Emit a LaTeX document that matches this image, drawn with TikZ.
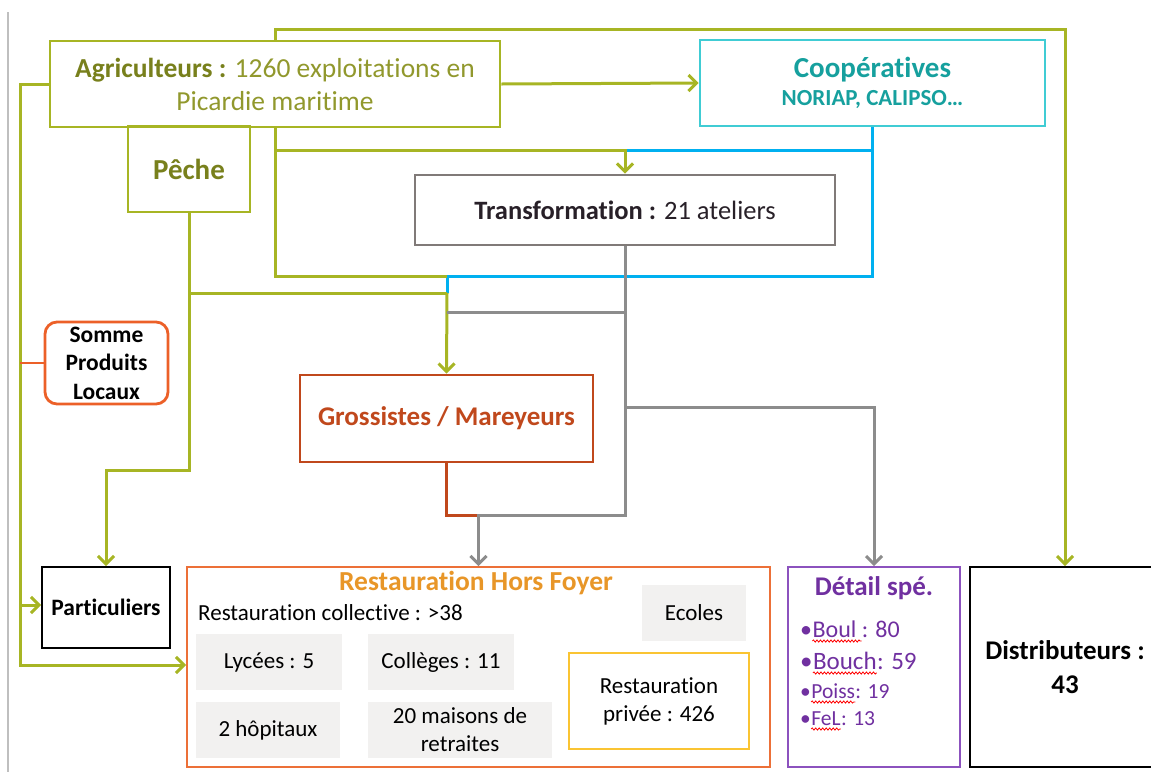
\documentclass[tikz,border=0pt]{standalone}
\usepackage{fontspec}
\setmainfont{Carlito}[Ligatures={NoCommon}]
\usetikzlibrary{arrows.meta,decorations.pathmorphing}
\definecolor{olvline}{RGB}{167,181,36}
\definecolor{olvtext}{RGB}{120,128,28}
\definecolor{olvtextl}{RGB}{145,152,45}
\definecolor{cyanbox}{RGB}{64,204,212}
\definecolor{tealtext}{RGB}{22,160,158}
\definecolor{blueline}{RGB}{0,176,240}
\definecolor{grayline}{RGB}{140,140,140}
\definecolor{graybox}{RGB}{128,122,120}
\definecolor{grossc}{RGB}{192,72,28}
\definecolor{sommec}{RGB}{236,96,40}
\definecolor{rhfc}{RGB}{236,112,56}
\definecolor{rhftc}{RGB}{232,150,40}
\definecolor{fillg}{RGB}{242,241,240}
\definecolor{privc}{RGB}{250,196,50}
\definecolor{purpb}{RGB}{140,82,190}
\definecolor{purpt}{RGB}{112,48,160}
\definecolor{darkt}{RGB}{40,32,40}
\begin{document}
\begin{tikzpicture}[x=1pt,y=-1pt,
  font=\fontsize{23}{28}\selectfont,
  box/.style={draw, line width=2.8pt, inner sep=0pt, align=center},
  gbox/.style={fill=fillg, inner sep=0pt, align=center, text=black},
  olv/.style={draw=olvline, line width=3pt},
  gry/.style={draw=grayline, line width=3pt},
  blu/.style={draw=blueline, line width=3pt},
  arr/.style={-{Straight Barb[length=8pt,width=16pt]}},
  txt/.style={inner sep=0pt},
  ptxt/.style={inner sep=0pt, anchor=base west, text=purpt},
  wavy/.style={draw=red, line width=0.8pt, decorate,
    decoration={snake, amplitude=1.1pt, segment length=3.5pt}}]
\useasboundingbox (0,0) rectangle (1151,772);
\clip (0,0) rectangle (1151,772);
\draw[draw=black!25, line width=1.2pt] (8,12) -- (8,772);

% boxes
\node[box, draw=olvline, minimum width=450, minimum height=86, text=olvtextl,
  font=\fontsize{27.5}{33}\selectfont] (agri) at (275,84)
  {{\color{olvtext}\bfseries Agriculteurs :} 1260 exploitations en\\Picardie maritime};
\node[box, draw=olvline, minimum width=122, minimum height=86, text=olvtext,
  font=\fontsize{29}{34}\selectfont\bfseries] (peche) at (189,169) {Pêche};
\node[box, draw=cyanbox, minimum width=345, minimum height=86, text=tealtext] (coop) at (872.5,83)
  {{\fontsize{29}{31}\selectfont\bfseries Coopératives}\\{\fontsize{23}{27}\selectfont\bfseries NORIAP, CALIPSO…}};
\node[box, draw=graybox, minimum width=420, minimum height=70, text=darkt,
  font=\fontsize{26.5}{30}\selectfont] (transf) at (625,210)
  {{\bfseries Transformation :} 21 ateliers};
\node[box, draw=sommec, rounded corners=12pt, minimum width=123, minimum height=82,
  font=\fontsize{23.5}{28.5}\selectfont\bfseries] (somme) at (106.5,363)
  {Somme\\Produits\\Locaux};
\node[box, draw=grossc, minimum width=293, minimum height=87, text=grossc,
  font=\fontsize{27}{30}\selectfont\bfseries] (gross) at (446.5,418.5) {Grossistes / Mareyeurs};
\node[box, draw=black, line width=1.8pt, minimum width=128, minimum height=81,
  font=\fontsize{23.5}{28}\selectfont\bfseries] (part) at (106,607.5) {Particuliers};
\node[box, draw=rhfc, line width=1.8pt, minimum width=583, minimum height=200] (rhf) at (478.5,667) {};
\node[box, draw=purpb, line width=1.8pt, minimum width=172, minimum height=200] (det) at (874,667) {};
\node[box, draw=black, line width=1.8pt, minimum width=190, minimum height=200,
  font=\fontsize{27}{34}\selectfont\bfseries] (dist) at (1065,667) {Distributeurs :\\43};

% inside Restauration Hors Foyer
\node[txt, text=rhftc, font=\fontsize{27.5}{30}\selectfont\bfseries] (rhft) at (476,583) {Restauration Hors Foyer};
\node[txt, anchor=west] (rcol) at (198,613) {Restauration collective : >38};
\node[gbox, minimum width=146, minimum height=56] (lyc) at (269,662) {Lycées : 5};
\node[gbox, minimum width=146, minimum height=56] (col) at (441,662) {Collèges : 11};
\node[gbox, minimum width=144, minimum height=56] (hop) at (268,730) {2 hôpitaux};
\node[gbox, minimum width=184, minimum height=56, font=\fontsize{23}{28}\selectfont] (mais) at (460,730) {20 maisons de\\retraites};
\node[gbox, minimum width=104, minimum height=56] (eco) at (694,613) {Ecoles};
\node[box, draw=privc, line width=1.8pt, minimum width=180, minimum height=96,
  font=\fontsize{23}{28}\selectfont] (priv) at (659,701) {Restauration\\privée : 426};

% inside Detail spe
\node[txt, text=purpt, font=\fontsize{27}{30}\selectfont\bfseries] (dett) at (874,588) {Détail spé.};
\node[ptxt, font=\fontsize{24}{28}\selectfont] (b1a) at (800,637) {\textbullet};
\node[ptxt, font=\fontsize{24}{28}\selectfont] (b1w) at (b1a.base east) {Boul\kern5pt};
\node[ptxt, font=\fontsize{24}{28}\selectfont] (b1n) at (b1w.base east) {: 80};
\node[ptxt, font=\fontsize{25}{29}\selectfont] (b2a) at (800,669) {\textbullet};
\node[ptxt, font=\fontsize{25}{29}\selectfont] (b2w) at (b2a.base east) {Bouch};
\node[ptxt, font=\fontsize{25}{29}\selectfont] (b2n) at (b2w.base east) {: 59};
\node[ptxt, font=\fontsize{21.5}{25}\selectfont] (b3a) at (800,698) {\textbullet};
\node[ptxt, font=\fontsize{21.5}{25}\selectfont] (b3w) at (b3a.base east) {Poiss};
\node[ptxt, font=\fontsize{21.5}{25}\selectfont] (b3n) at (b3w.base east) {: 19};
\node[ptxt, font=\fontsize{21.5}{25}\selectfont] (b4a) at (800,725) {\textbullet};
\node[ptxt, font=\fontsize{21.5}{25}\selectfont] (b4w) at (b4a.base east) {FeL};
\node[ptxt, font=\fontsize{21.5}{25}\selectfont] (b4n) at (b4w.base east) {: 13};
\foreach \w in {b1w,b2w,b3w,b4w}
  \draw[wavy] ([yshift=-4pt]\w.base west) -- ([yshift=-4pt]\w.base east);

% junction coordinates
\coordinate (top) at (275,29);
\coordinate (lv) at (20,605);
\coordinate (ls) at (20,363);
\coordinate (h150) at (275,150);
\coordinate (j276) at (447,276);
\coordinate (j293) at (447,293);
\coordinate (p293) at (189,293);
\coordinate (p470) at (189,470);
\coordinate (g312) at (447,312);
\coordinate (t312) at (625,312);
\coordinate (t407) at (625,407);
\coordinate (t515) at (625,515);
\coordinate (m515) at (478,515);

% connectors
\draw[blu] (coop.south) |- (j276) -- (j293);
\draw[blu] (transf.north |- h150) -- (coop.south |- h150);
\draw[olv, arr] (agri.north) |- (top) -| (dist.north);
\draw[olv, arr] (agri.east) -- (coop.west);
\draw[olv, arr] (agri.west) -| (20,665) -- (rhf.west |- 0,665);
\draw[olv, arr] (lv) -- (part.west |- lv);
\draw[draw=sommec, line width=2.6pt] (ls) -- (somme.west);
\draw[olv] (agri.south) |- (j276);
\draw[olv, arr] (h150) -| (transf.north);
\draw[olv] (peche.south) |- (j293);
\draw[olv, arr] (j293) -- (gross.north);
\draw[olv, arr] (p293) -- (p470) -| (part.north);
\draw[gry] (g312) -- (t312);
\draw[gry, arr] (t407) -| (det.north);
\draw[draw=grossc, line width=3pt] (gross.south) |- (m515);
\draw[gry, arr] (transf.south) -- (t515) -| (rhf.north);
\end{tikzpicture}
\end{document}
